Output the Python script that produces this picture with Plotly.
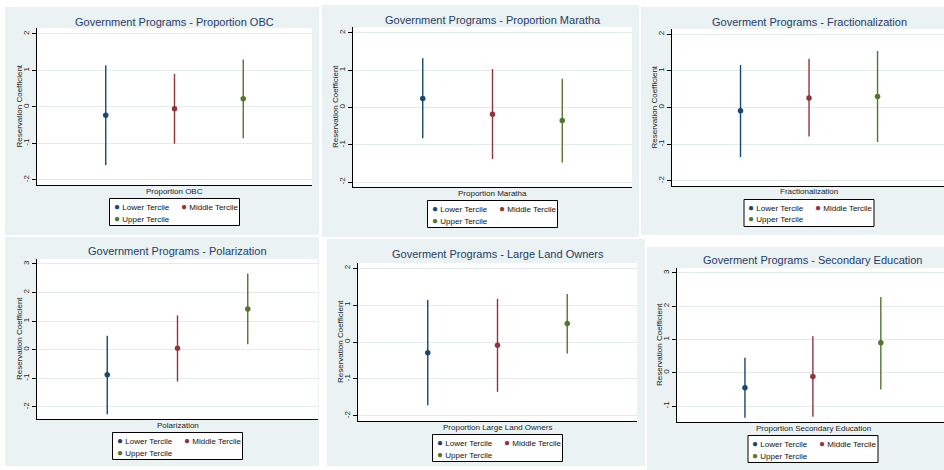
import plotly.graph_objects as go

W, H = 944, 470

# ---------------- data ----------------
terciles = ["Lower Tercile", "Middle Tercile", "Upper Tercile"]
tercile_pos = [1, 2, 3]
colors = ["#1a476f", "#90353b", "#55752f"]

titles = [
    "Government Programs - Proportion OBC",
    "Government Programs - Proportion Maratha",
    "Goverment Programs - Fractionalization",
    "Government Programs - Polarization",
    "Goverment Programs - Large Land Owners",
    "Goverment Programs - Secondary Education",
]
x_titles = [
    "Proportion OBC",
    "Proportion Maratha",
    "Fractionalization",
    "Polarization",
    "Proportion Large Land Owners",
    "Proportion Secondary Education",
]
y_title = "Reservation Coefficient"

obc_est = [-0.23, -0.05, 0.22]
obc_lo = [-1.59, -1.01, -0.86]
obc_hi = [1.14, 0.90, 1.30]

maratha_est = [0.24, -0.18, -0.35]
maratha_lo = [-0.82, -1.38, -1.47]
maratha_hi = [1.32, 1.03, 0.77]

frac_est = [-0.09, 0.26, 0.30]
frac_lo = [-1.35, -0.79, -0.94]
frac_hi = [1.16, 1.33, 1.54]

polar_est = [-0.87, 0.05, 1.42]
polar_lo = [-2.25, -1.11, 0.19]
polar_hi = [0.49, 1.20, 2.66]

land_est = [-0.29, -0.09, 0.50]
land_lo = [-1.71, -1.35, -0.31]
land_hi = [1.14, 1.17, 1.30]

sec_est = [-0.45, -0.11, 0.90]
sec_lo = [-1.35, -1.32, -0.50]
sec_hi = [0.45, 1.10, 2.28]

ticks_2 = [-2, -1, 0, 1, 2]
ticks_polar = [-2, -1, 0, 1, 2, 3]
ticks_sec = [-1, 0, 1, 2, 3]

series = [
    (obc_est, obc_lo, obc_hi, ticks_2),
    (maratha_est, maratha_lo, maratha_hi, ticks_2),
    (frac_est, frac_lo, frac_hi, ticks_2),
    (polar_est, polar_lo, polar_hi, ticks_polar),
    (land_est, land_lo, land_hi, ticks_2),
    (sec_est, sec_lo, sec_hi, ticks_sec),
]

# ---------------- layout (pixels) ----------------
panels = [
    dict(bg=(5, 7, 319, 235), plot=(37, 28, 312, 185), xmax=4.0, yr=(-2.14, 2.16), ty=22, cx=174.5),
    dict(bg=(322, 5, 639, 237), plot=(353, 27, 632, 187), xmax=4.0, yr=(-2.13, 2.16), ty=20, cx=492.5),
    dict(bg=(641, 7, 944, 235), plot=(672, 29, 944, 186), xmax=3.97, yr=(-2.14, 2.14), ty=22, cx=809.0),
    dict(bg=(5, 237, 319, 466), plot=(37, 259, 318, 419), xmax=4.0, yr=(-2.42, 3.17), ty=251, cx=177.5),
    dict(bg=(327, 239, 645, 466), plot=(358, 263, 637, 421), xmax=4.0, yr=(-2.14, 2.14), ty=254, cx=497.5),
    dict(bg=(647, 247, 944, 470), plot=(677, 268, 944, 422), xmax=3.93, yr=(-1.48, 3.15), ty=260, cx=813.0),
]

FONT = "Liberation Sans, Arial, sans-serif"
BG = "#eaf2f3"
GRID = "#e3ebed"
TITLE_C = "#263b66"


def fx(p):
    return p / W


def fy(p):
    return 1 - p / H


fig = go.Figure()
shapes = []
annotations = []
layout_axes = {}

for i, pn in enumerate(panels):
    k = i + 1
    sfx = "" if k == 1 else str(k)
    xa, ya = "x" + sfx, "y" + sfx
    est, lo, hi, ticks = series[i]

    for j in range(3):
        fig.add_trace(go.Scatter(
            x=[tercile_pos[j]], y=[est[j]], mode="markers",
            marker=dict(color=colors[j], size=5.5),
            error_y=dict(type="data", symmetric=False,
                         array=[hi[j] - est[j]], arrayminus=[est[j] - lo[j]],
                         width=0, thickness=1.4, color=colors[j]),
            name=terciles[j], showlegend=False, xaxis=xa, yaxis=ya,
        ))

    x0, y0, x1, y1 = pn["plot"]
    layout_axes["xaxis" + sfx] = dict(
        domain=[fx(x0), fx(x1)], range=[0, pn["xmax"]], anchor=ya,
        showticklabels=False, ticks="", showgrid=False, zeroline=False,
        showline=True, linecolor="#000", linewidth=1, fixedrange=True,
    )
    layout_axes["yaxis" + sfx] = dict(
        domain=[fy(y1), fy(y0)], range=list(pn["yr"]), anchor=xa,
        tickvals=ticks, ticktext=[str(t) for t in ticks], tickangle=-90,
        ticks="outside", ticklen=4, tickcolor="#000", tickwidth=1,
        tickfont=dict(size=8, color="#222", family=FONT),
        showgrid=True, gridcolor=GRID, gridwidth=1, zeroline=False,
        showline=True, linecolor="#000", linewidth=1, fixedrange=True,
    )

    bx0, by0, bx1, by1 = pn["bg"]
    shapes.append(dict(type="rect", xref="paper", yref="paper",
                       x0=fx(bx0), x1=fx(bx1), y0=fy(by1), y1=fy(by0),
                       fillcolor=BG, line=dict(width=0), layer="below"))
    shapes.append(dict(type="rect", xref=xa + " domain", yref=ya + " domain",
                       x0=0, x1=1, y0=0, y1=1,
                       fillcolor="white", line=dict(width=0), layer="below"))

    annotations.append(dict(text=titles[i], xref="paper", yref="paper",
                            x=fx(pn["cx"]), y=fy(pn["ty"]), xanchor="center", yanchor="middle",
                            showarrow=False, font=dict(size=11, color=TITLE_C, family=FONT)))
    annotations.append(dict(text=x_titles[i], xref="paper", yref="paper",
                            x=fx(pn["cx"]), y=fy(y1 + 6), xanchor="center", yanchor="middle",
                            showarrow=False, font=dict(size=8, color="#222", family=FONT)))
    annotations.append(dict(text=y_title, xref="paper", yref="paper", textangle=-90,
                            x=fx(x0 - 18), y=fy((y0 + y1) / 2), xanchor="center", yanchor="middle",
                            showarrow=False, font=dict(size=8, color="#222", family=FONT)))

    lw, lh = 130, 27
    lx0 = pn["cx"] - lw / 2
    ly0 = y1 + 13.5
    shapes.append(dict(type="rect", xref="paper", yref="paper",
                       x0=fx(lx0), x1=fx(lx0 + lw), y0=fy(ly0 + lh), y1=fy(ly0),
                       fillcolor="white", line=dict(color="#000", width=1), layer="above"))
    entry_pos = [(lx0 + 2, ly0 + 7.5), (lx0 + 69, ly0 + 7.5), (lx0 + 2, ly0 + 19.5)]
    for j in range(3):
        ex, ey = entry_pos[j]
        annotations.append(dict(
            text=f"<span style='color:{colors[j]};font-size:10px'>●</span> {terciles[j]}",
            xref="paper", yref="paper", x=fx(ex), y=fy(ey),
            xanchor="left", yanchor="middle", showarrow=False,
            font=dict(size=8, color="#111", family=FONT)))

fig.update_layout(
    width=W, height=H,
    margin=dict(l=0, r=0, t=0, b=0),
    paper_bgcolor="white", plot_bgcolor="white",
    showlegend=False, hovermode=False,
    font=dict(family=FONT),
    shapes=shapes, annotations=annotations,
    **layout_axes,
)

fig.write_html("out.html", config={"displayModeBar": False, "staticPlot": True},
               post_script="document.body.style.margin='0';")
